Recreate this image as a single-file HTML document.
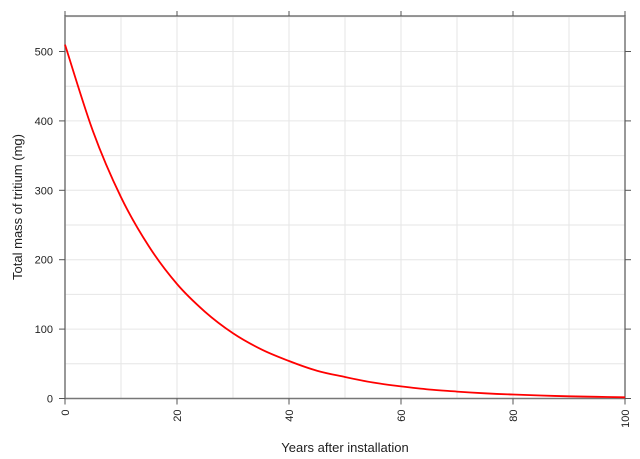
<!DOCTYPE html>
<html><head><meta charset="utf-8"><style>
body{margin:0;background:#fff;}
svg{display:block;font-family:"Liberation Sans",sans-serif;}
</style></head><body>
<svg id="chart" width="640" height="459"></svg>
<script>
const years=[0,5,10,15,20,25,30,35,40,45,50,55,60,65,70,75,80,85,90,95,100];
const massMg=[510,385,290,219,165,125,94,71,54,40,31,23,17.5,13,10,7.5,5.7,4.3,3.2,2.4,1.8];
const xTicks=[0,20,40,60,80,100];
const yTicks=[0,100,200,300,400,500];
const NS='http://www.w3.org/2000/svg';
const svg=document.getElementById('chart');
const L=65,R=625,T=16,B=398.5;
const X=v=>L+(v/100)*(R-L);
const Y=v=>B-(v/500)*(B-51.5);
function mk(t,a,name){const e=document.createElementNS(NS,t);for(const k in a)e.setAttribute(k,a[k]);


svg.appendChild(e);return e;}
for(let v=10;v<100;v+=10)mk('line',{x1:X(v),x2:X(v),y1:T,y2:B,stroke:'#e6e6e6','stroke-width':1},'x-gridline');
for(let v=50;v<=550;v+=50)if(Y(v)>T)mk('line',{x1:L,x2:R,y1:Y(v),y2:Y(v),stroke:'#e6e6e6','stroke-width':1},'y-gridline');
mk('rect',{x:L,y:T,width:R-L,height:B-T,fill:'none',stroke:'#777','stroke-width':1.5},'plot-border');
xTicks.forEach(v=>{
mk('line',{x1:X(v),x2:X(v),y1:B,y2:B+6,stroke:'#555'},'x-tick');
mk('line',{x1:X(v),x2:X(v),y1:T-5,y2:T,stroke:'#555'},'x-tick-top');
const t=mk('text',{x:0,y:0,transform:`translate(${X(v)+4},${B+11}) rotate(-90)`,'text-anchor':'end','font-size':11,fill:'#222'},'x-tick-label');t.textContent=v;});
yTicks.forEach(v=>{
mk('line',{x1:L-6,x2:L,y1:Y(v),y2:Y(v),stroke:'#555'},'y-tick');
mk('line',{x1:R,x2:R+6,y1:Y(v),y2:Y(v),stroke:'#555'},'y-tick-right');
const t=mk('text',{x:L-12,y:Y(v)+4,'text-anchor':'end','font-size':11,fill:'#222'},'y-tick-label');t.textContent=v;});
const P=years.map((y,i)=>[X(y),Y(massMg[i])]);
let d='M'+P[0][0].toFixed(1)+','+P[0][1].toFixed(1);
for(let i=0;i<P.length-1;i++){
const p0=P[i-1]||P[i],p1=P[i],p2=P[i+1],p3=P[i+2]||P[i+1];
const c1=[p1[0]+(p2[0]-p0[0])/6,p1[1]+(p2[1]-p0[1])/6];
const c2=[p2[0]-(p3[0]-p1[0])/6,p2[1]-(p3[1]-p1[1])/6];
d+=` C${c1[0].toFixed(1)},${c1[1].toFixed(1)} ${c2[0].toFixed(1)},${c2[1].toFixed(1)} ${p2[0].toFixed(1)},${p2[1].toFixed(1)}`;}
mk('path',{d:d,fill:'none',stroke:'#ff0000','stroke-width':1.8,'stroke-linejoin':'round'},'decay-curve');
const xt=mk('text',{x:345,y:452,'text-anchor':'middle','font-size':13,fill:'#222'},'x-axis-title');xt.textContent='Years after installation';
const yt=mk('text',{x:0,y:0,transform:'translate(22,207) rotate(-90)','text-anchor':'middle','font-size':13,fill:'#222'},'y-axis-title');yt.textContent='Total mass of tritium (mg)';
</script>
</body></html>
